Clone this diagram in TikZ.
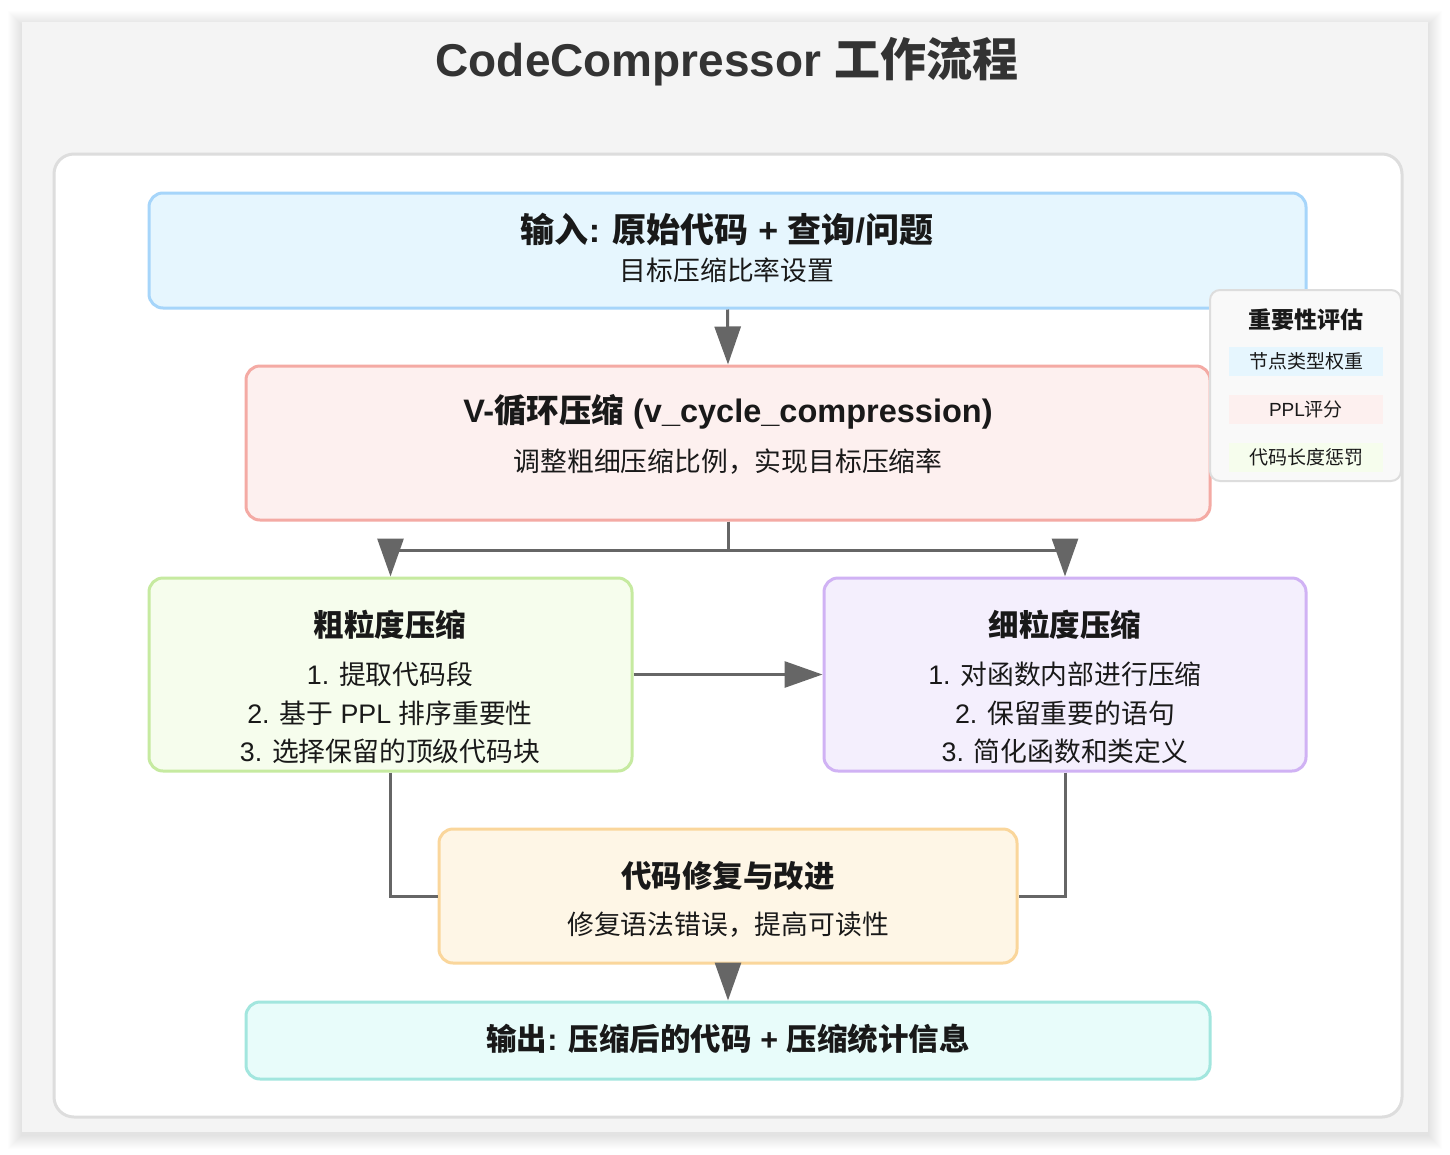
\documentclass[tikz,border=0pt]{standalone}
\usepackage{fontspec}
\setmainfont{Noto Sans CJK SC}
\newfontfamily\latf{Liberation Sans}
\newfontfamily\latbf{Liberation Sans Bold}
\newcommand{\latb}[1]{{\latbf\mdseries #1}}
\usetikzlibrary{arrows.meta}
\definecolor{ink}{RGB}{25,25,25}
\definecolor{titleink}{RGB}{51,51,51}
\definecolor{arrowgray}{RGB}{102,102,102}
\definecolor{outerbg}{RGB}{244,244,244}
\definecolor{frameline}{RGB}{221,221,221}
\definecolor{panelfill}{RGB}{249,249,249}
\definecolor{inline}{RGB}{166,213,250}
\definecolor{infill}{RGB}{230,246,254}
\definecolor{vcline}{RGB}{244,170,164}
\definecolor{vcfill}{RGB}{253,240,239}
\definecolor{cgline}{RGB}{198,234,160}
\definecolor{cgfill}{RGB}{246,253,237}
\definecolor{fgline}{RGB}{208,178,244}
\definecolor{fgfill}{RGB}{244,239,253}
\definecolor{rpline}{RGB}{250,214,155}
\definecolor{rpfill}{RGB}{254,246,230}
\definecolor{outline}{RGB}{162,230,222}
\definecolor{outfill}{RGB}{232,252,250}

\begin{document}
\begin{tikzpicture}[
		x=1pt, y=-1pt,
		box/.style={rectangle,rounded corners=14pt,line width=3pt,inner sep=0pt},
		head/.style={font=\fontsize{30.5}{36}\selectfont\bfseries,text=ink,inner sep=0pt},
		sub/.style={font=\fontsize{26.8}{31}\selectfont,text=ink,inner sep=0pt},
		tag/.style={rectangle,inner sep=0pt,minimum width=154pt,minimum height=29pt,
		font=\fontsize{19}{22}\selectfont,text=ink},
		flow/.style={>={Triangle[length=38pt,width=26pt]},draw=arrowgray,line width=3pt,->},
		link/.style={draw=arrowgray,line width=3pt}
		]
		\useasboundingbox (0,0) rectangle (1450,1154);
		\fill[white] (0,0) rectangle (1450,1154);
		% soft shadow and grey sheet
		\foreach \s in {1,...,14}
			\fill[black,opacity=0.007] (22-\s,25-\s) rectangle (1428+\s,1135+\s);
		\fill[outerbg] (22,22) rectangle (1428,1132);
		\node[font=\fontsize{46}{54}\selectfont\bfseries,text=titleink] (title) at (727,62)
			{\latb{CodeCompressor }工作流程};
		\draw[frameline,fill=white,line width=3pt,rounded corners=20pt]
			(54,154) rectangle (1402,1117);

		% stages
		\node[box,draw=inline,fill=infill,minimum width=1157pt,minimum height=115pt]
			(in) at (727.5,250.5) {};
		\node[head,font=\fontsize{34}{40}\selectfont\bfseries] (inh) at (727,229)
			{输入\latb{: }原始代码\latb{\ + }查询\latb{/}问题};
		\node[sub] (ins) at (727,270) {目标压缩比率设置};

		\node[box,draw=vcline,fill=vcfill,minimum width=964pt,minimum height=154pt]
			(vc) at (728,443) {};
		\node[head,font=\fontsize{32.5}{38}\selectfont\bfseries] (vch) at (728,412)
			{\latb{V-}循环压缩\latb{\ (v\_cycle\_compression)}};
		\node[sub] (vcs) at (728,462) {调整粗细压缩比例，实现目标压缩率};

		\node[box,draw=cgline,fill=cgfill,minimum width=483pt,minimum height=193pt]
			(cg) at (390.5,674.5) {};
		\node[head] (cgh) at (390,625) {粗粒度压缩};
		\node[sub] (cg1) at (390,674) {{\latf 1. }提取代码段};
		\node[sub] (cg2) at (390,713) {{\latf 2. }基于{\latf\ PPL }排序重要性};
		\node[sub] (cg3) at (390,751) {{\latf 3. }选择保留的顶级代码块};

		\node[box,draw=fgline,fill=fgfill,minimum width=482pt,minimum height=193pt]
			(fg) at (1065,674.5) {};
		\node[head] (fgh) at (1065,625) {细粒度压缩};
		\node[sub] (fg1) at (1065,674) {{\latf 1. }对函数内部进行压缩};
		\node[sub] (fg2) at (1065,713) {{\latf 2. }保留重要的语句};
		\node[sub] (fg3) at (1065,751) {{\latf 3. }简化函数和类定义};

		\node[box,draw=rpline,fill=rpfill,minimum width=578pt,minimum height=134pt]
			(rp) at (728,896) {};
		\node[head] (rph) at (728,876) {代码修复与改进};
		\node[sub] (rps) at (728,925) {修复语法错误，提高可读性};

		\node[box,draw=outline,fill=outfill,minimum width=964pt,minimum height=77pt]
			(out) at (728,1040.5) {};
		\node[head] (outh) at (728,1039)
			{输出\latb{: }压缩后的代码\latb{\ + }压缩统计信息};

		% importance panel
		\node[box,rounded corners=10pt,line width=2pt,draw=frameline,fill=panelfill,
			minimum width=191pt,minimum height=191pt] (imp) at (1305.5,385.5) {};
		\node[head,font=\fontsize{23}{27}\selectfont\bfseries] (imph) at (1306,320) {重要性评估};
		\node[tag,fill=infill] (w1) at (1306,361.5) {节点类型权重};
		\node[tag,fill=vcfill] (w2) at (1306,409.5) {{\latf PPL}评分};
		\node[tag,fill=cgfill] (w3) at (1306,457.5) {代码长度惩罚};

		% connectors
		\draw[flow] (in.south) -- (vc.north);
		\draw[flow] (vc.south) -- ++(0,29) -| (cg.north);
		\draw[flow] (vc.south) -- ++(0,29) -| (fg.north);
		\draw[flow] (cg.east) -- (fg.west);
		\draw[link] (cg.south) |- (rp.west);
		\draw[link] (fg.south) |- (rp.east);
		\draw[flow] (rp.south) -- (out.north);
	\end{tikzpicture}
\end{document}
